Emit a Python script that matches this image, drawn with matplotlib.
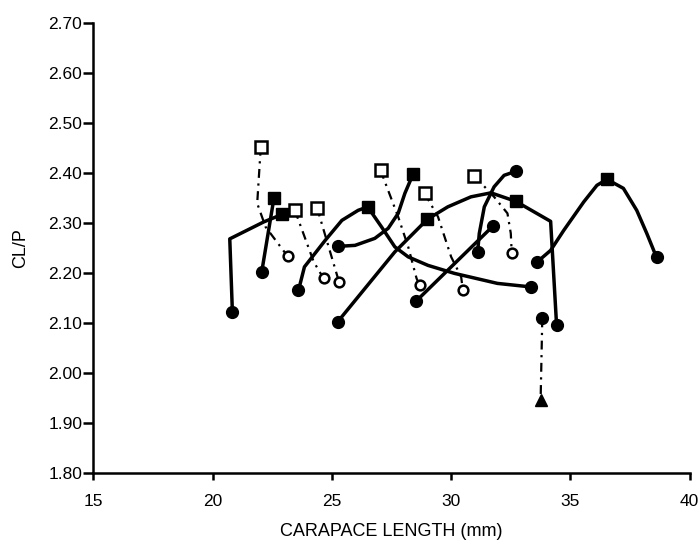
import matplotlib.pyplot as plt

plt.rcParams['font.family'] = ['Liberation Sans', 'DejaVu Sans']

# solid growth paths
c1_x = [20.83, 20.72, 22.15, 22.92]
c1_y = [2.122, 2.268, 2.302, 2.317]
c2_x = [22.06, 22.57]
c2_y = [2.202, 2.349]
c3_x = [23.60, 23.85, 24.72, 25.42, 26.10, 26.50, 27.08, 27.64, 28.20, 29.03, 30.14, 31.94, 33.33]
c3_y = [2.165, 2.212, 2.265, 2.305, 2.325, 2.332, 2.292, 2.252, 2.232, 2.215, 2.199, 2.179, 2.172]
c4_x = [25.25, 25.97, 26.80, 27.36, 27.78, 28.06, 28.40]
c4_y = [2.253, 2.255, 2.269, 2.289, 2.319, 2.359, 2.397]
c5_x = [25.24, 27.64, 29.00, 29.86, 30.83, 31.67, 32.71, 34.17, 34.42]
c5_y = [2.102, 2.242, 2.307, 2.332, 2.352, 2.360, 2.343, 2.303, 2.095]
c6_x = [28.52, 31.74]
c6_y = [2.143, 2.293]
c7_x = [31.11, 31.18, 31.39, 31.80, 32.22, 32.71]
c7_y = [2.242, 2.279, 2.332, 2.372, 2.395, 2.403]
c8_x = [33.61, 34.17, 34.72, 35.56, 36.11, 36.53, 37.22, 37.78, 38.20, 38.61]
c8_y = [2.222, 2.245, 2.285, 2.342, 2.375, 2.387, 2.369, 2.325, 2.279, 2.231]

# dash-dot paths
d1_x = [22.02, 21.87, 22.22, 23.15]
d1_y = [2.452, 2.339, 2.292, 2.233]
d2_x = [23.45, 24.24, 24.65]
d2_y = [2.325, 2.222, 2.189]
d3_x = [24.38, 25.30]
d3_y = [2.330, 2.182]
d4_x = [27.04, 27.78, 28.20, 28.55, 28.68]
d4_y = [2.405, 2.312, 2.252, 2.189, 2.175]
d5_x = [28.89, 29.45, 30.00, 30.42, 30.49]
d5_y = [2.359, 2.312, 2.232, 2.192, 2.165]
d6_x = [30.97, 31.80, 32.36, 32.50, 32.54]
d6_y = [2.394, 2.352, 2.319, 2.279, 2.239]
d7_x = [33.82, 33.75]
d7_y = [2.109, 1.945]

# markers
fc_x = [20.83, 22.06, 23.60, 25.25, 25.24, 28.52, 31.11, 31.74, 32.71, 33.33, 33.61, 33.82, 34.42, 38.61]
fc_y = [2.122, 2.202, 2.165, 2.253, 2.102, 2.143, 2.242, 2.293, 2.403, 2.172, 2.222, 2.109, 2.095, 2.231]
fs_x = [22.57, 22.92, 26.50, 28.40, 29.00, 32.71, 36.53]
fs_y = [2.349, 2.317, 2.332, 2.397, 2.307, 2.343, 2.387]
os_x = [22.02, 23.45, 24.38, 27.04, 28.89, 30.97]
os_y = [2.452, 2.325, 2.330, 2.405, 2.359, 2.394]
oc_x = [23.15, 24.65, 25.30, 28.68, 30.49, 32.54]
oc_y = [2.233, 2.189, 2.182, 2.175, 2.165, 2.239]
tri_x = [33.75]
tri_y = [1.945]

solid = [(c1_x, c1_y), (c2_x, c2_y), (c3_x, c3_y), (c4_x, c4_y),
         (c5_x, c5_y), (c6_x, c6_y), (c7_x, c7_y), (c8_x, c8_y)]
dashed = [(d1_x, d1_y), (d2_x, d2_y), (d3_x, d3_y), (d4_x, d4_y),
          (d5_x, d5_y), (d6_x, d6_y), (d7_x, d7_y)]

fig = plt.figure(figsize=(7, 5.49), dpi=100)
ax = fig.add_axes([0.1333, 0.1384, 0.852, 0.8202])

for xs, ys in solid:
    ax.plot(xs, ys, color='black', lw=2.5, solid_capstyle='round', zorder=2)
for xs, ys in dashed:
    ax.plot(xs, ys, color='black', lw=1.6, linestyle=(0, (4, 2.5, 1, 2.5)), zorder=2)

ax.plot(fc_x, fc_y, 'o', color='black', ms=8.5, ls='none', zorder=3)
ax.plot(fs_x, fs_y, 's', color='black', ms=8, ls='none', zorder=3)
ax.plot(os_x, os_y, 's', mfc='white', mec='black', mew=1.8, ms=8, ls='none', zorder=3)
ax.plot(oc_x, oc_y, 'o', mfc='white', mec='black', mew=1.8, ms=7, ls='none', zorder=3)
ax.plot(tri_x, tri_y, '^', color='black', ms=9, ls='none', zorder=3)

ax.set_xlim(15, 40)
ax.set_ylim(1.80, 2.70)
ax.set_xticks([15, 20, 25, 30, 35, 40])
ax.set_yticks([1.8 + 0.1 * i for i in range(10)])
ax.yaxis.set_major_formatter(plt.FormatStrFormatter('%.2f'))

for s in ['top', 'right']:
    ax.spines[s].set_visible(False)
for s in ['left', 'bottom']:
    ax.spines[s].set_linewidth(1.8)
ax.tick_params(axis='y', direction='out', length=7, width=1.8, pad=1, labelsize=12.5)
ax.tick_params(axis='x', direction='out', length=5, width=1.8, pad=10, labelsize=12.5)

ax.set_xlabel('CARAPACE LENGTH (mm)', fontsize=13, labelpad=10)
ax.set_ylabel('CL/P', fontsize=13, labelpad=14)

fig.savefig('out.png', dpi=100)
